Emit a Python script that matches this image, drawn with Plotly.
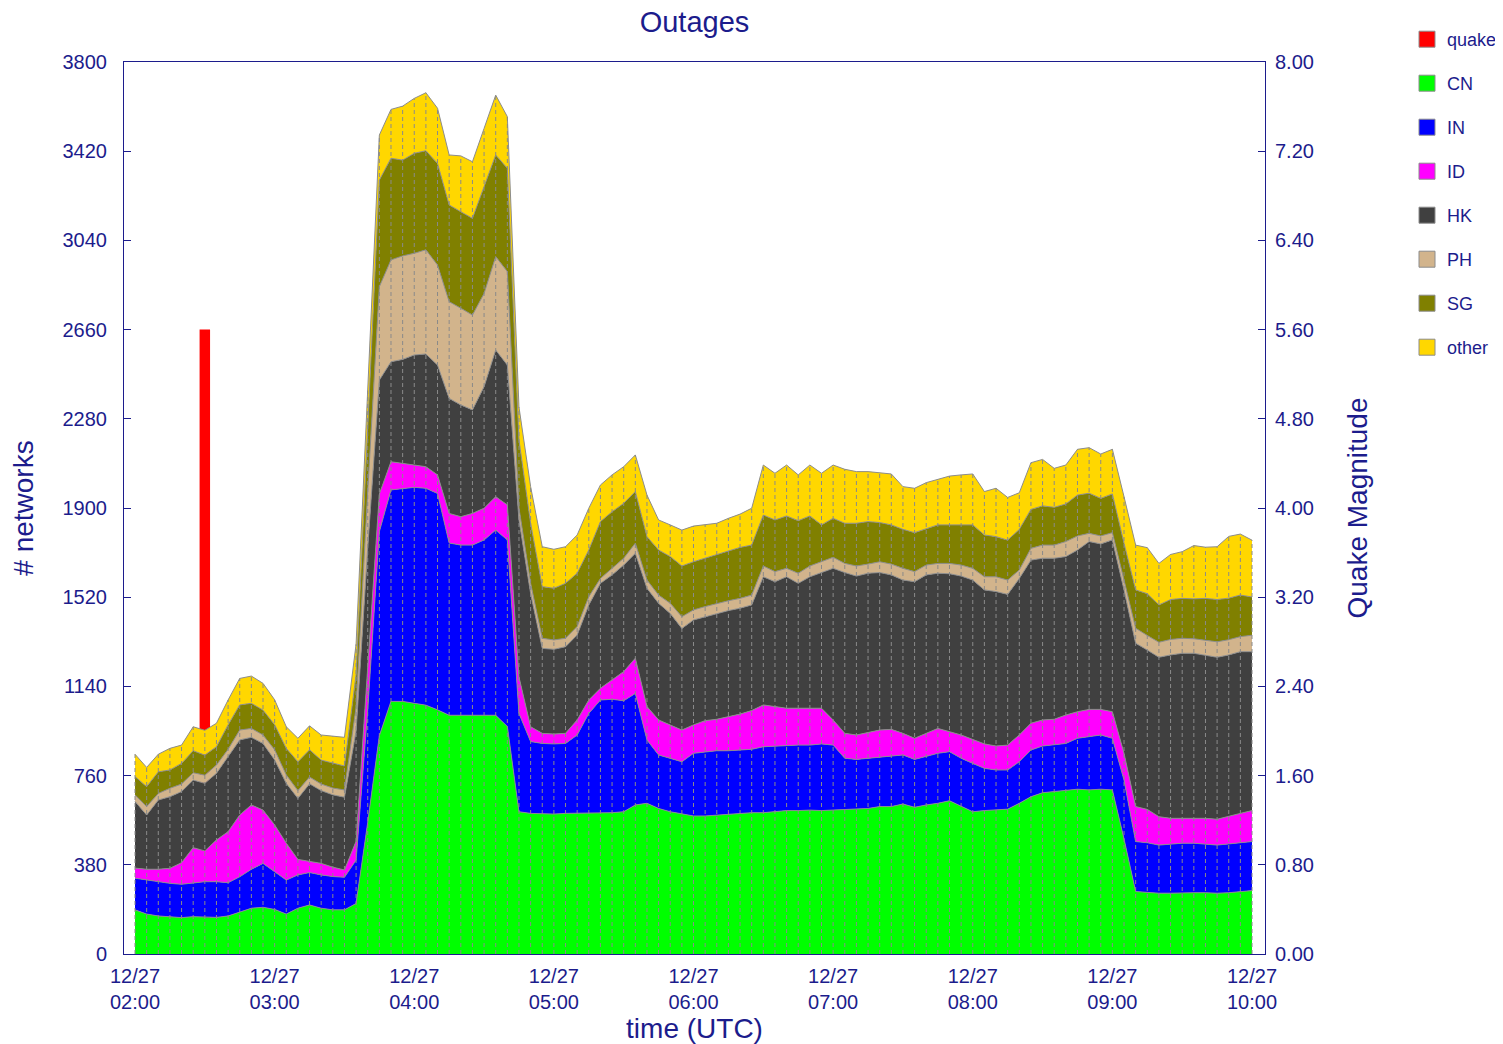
import pandas as pd
import plotly.graph_objects as go

# 5-minute samples, 12/27 02:00 .. 10:00 (UTC)
times = pd.date_range("2006-12-27 02:00", periods=97, freq="5min")

cn = [188, 170, 162, 157, 155, 159, 159, 156, 162, 180, 195, 199, 190, 170, 195, 209, 195, 188, 188,
      215, 560, 930, 1076, 1076, 1069, 1060, 1040, 1017, 1017, 1017, 1017, 1017, 969, 606, 599,
      596, 596, 599, 599, 602, 602, 602, 606, 635, 642, 620, 606, 596, 588, 588, 592, 596, 599, 602,
      602, 606, 611, 611, 613, 611, 613, 616, 620, 620, 628, 628, 639, 625, 635, 642, 653, 628, 606, 611,
      613, 617, 642, 670, 687, 692, 696, 702, 699, 702, 699, 490,
      266, 261, 259, 259, 261, 261, 261, 259, 261, 266, 270]
in_ = [135, 145, 146, 144, 142, 145, 149, 152, 142, 149, 166, 187, 161, 145, 142, 138, 142, 142, 139,
       185, 480, 870, 901, 908, 919, 924, 922, 734, 725, 725, 747, 789, 795, 419, 306,
       301, 299, 298, 334, 423, 480, 483, 473, 475, 270, 228, 228, 223, 267, 274, 274, 270, 270, 270,
       281, 280, 279, 279, 277, 284, 277, 218, 209, 214, 213, 215, 209, 204, 208, 213, 209, 206, 206, 180,
       171, 167, 177, 199, 199, 198, 201, 217, 227, 231, 220, 251,
       213, 213, 205, 210, 211, 211, 208, 205, 208, 208, 209]
id_ = [43, 46, 53, 64, 92, 149, 131, 178, 217, 263, 274, 227, 199, 157, 66, 47, 49, 40, 31,
       80, 180, 160, 120, 106, 95, 92, 79, 126, 121, 135, 135, 142, 149, 155, 63,
       43, 42, 43, 64, 57, 50, 82, 124, 150, 142, 149, 142, 135, 121, 132, 134, 145, 153, 165,
       178, 168, 157, 157, 157, 152, 107, 106, 104, 109, 113, 114, 92, 90, 97, 106, 85, 99, 102, 104,
       102, 106, 114, 114, 111, 110, 121, 113, 116, 109, 113, 114,
       149, 142, 121, 109, 106, 106, 109, 110, 119, 125, 132]
hk = [284, 231, 295, 305, 303, 288, 288, 284, 320, 320, 288, 284, 277, 255, 260, 331, 310, 308, 310,
      470, 510, 485, 426, 443, 469, 480, 468, 490, 476, 441, 518, 625, 596, 670, 568,
      362, 361, 369, 362, 405, 447, 448, 454, 447, 504, 497, 475, 433, 447, 443, 451, 452, 451, 450,
      546, 532, 560, 532, 560, 578, 646, 685, 677, 679, 671, 658, 653, 667, 675, 661, 673, 677, 679, 656,
      658, 642, 667, 695, 689, 686, 675, 689, 715, 705, 732, 696,
      696, 679, 679, 696, 703, 703, 696, 690, 686, 689, 677]
ph = [28, 36, 28, 36, 32, 31, 35, 35, 31, 42, 38, 36, 43, 36, 33, 29, 28, 29, 31,
      100, 240, 398, 434, 441, 433, 444, 426, 412, 412, 404, 397, 398, 398, 50, 43,
      43, 40, 36, 36, 35, 21, 28, 29, 43, 35, 35, 43, 50, 43, 43, 43, 42, 42, 42,
      46, 43, 36, 43, 46, 46, 47, 39, 43, 39, 46, 46, 50, 43, 42, 42, 44, 47, 50, 56,
      63, 61, 36, 50, 56, 56, 64, 60, 35, 34, 31, 42,
      64, 62, 64, 66, 64, 62, 64, 66, 65, 64, 70]
sg = [78, 85, 92, 78, 88, 94, 85, 78, 104, 107, 107, 106, 107, 113, 123, 116, 102, 106, 102,
      140, 270, 454, 433, 408, 426, 422, 433, 412, 411, 412, 455, 433, 440, 290, 256,
      220, 220, 234, 227, 199, 242, 241, 234, 220, 185, 192, 199, 216, 205, 206, 206, 209, 217, 213,
      217, 220, 223, 224, 213, 157, 166, 171, 182, 181, 167, 167, 166, 166, 156, 164, 164, 171, 185, 178,
      171, 170, 173, 166, 167, 161, 160, 174, 171, 160, 165, 157,
      163, 178, 159, 170, 170, 170, 177, 180, 177, 177, 163]
other = [95, 82, 75, 92, 78, 102, 106, 100, 106, 113, 116, 114, 106, 92, 100, 102, 107, 114, 122,
         130, 160, 192, 208, 230, 234, 247, 235, 213, 238, 241, 248, 255, 220, 140, 156,
         170, 166, 156, 163, 178, 156, 157, 156, 156, 177, 128, 135, 153, 152, 142, 135, 142, 142, 157,
         213, 199, 217, 195, 217, 220, 227, 230, 220, 213, 212, 217, 182, 189, 195, 194, 208, 213, 217, 185,
         206, 182, 156, 199, 198, 166, 166, 195, 194, 189, 190, 198,
         191, 196, 177, 192, 199, 227, 218, 225, 263, 260, 242]

quake_time = ["2006-12-27 02:30"]
quake_mag = [5.6]

hour_ticks = pd.date_range("2006-12-27 02:00", "2006-12-27 10:00", freq="1h")
hour_labels = [f"12/27<br>{t:%H:%M}" for t in hour_ticks]
net_ticks = list(range(0, 3801, 380))
mag_ticks = [0, 0.8, 1.6, 2.4, 3.2, 4.0, 4.8, 5.6, 6.4, 7.2, 8.0]

series = [("CN", cn), ("IN", in_), ("ID", id_), ("HK", hk),
          ("PH", ph), ("SG", sg), ("other", other)]
colors = {"quake": "#ff0000", "CN": "#00ff00", "IN": "#0000ff", "ID": "#ff00ff",
          "HK": "#404040", "PH": "#d2b48c", "SG": "#808000", "other": "#ffd700"}

NAVY = "#1c1c8c"
FONT = "Liberation Sans, Arial, sans-serif"
W, H = 1503, 1044

fig = go.Figure()

# quake bar on the base (right) axis so the stacked areas overlay it
fig.add_trace(go.Bar(x=pd.to_datetime(quake_time), y=quake_mag, width=[270000],
                     marker=dict(color=colors["quake"], line=dict(width=0)),
                     yaxis="y", showlegend=False, hoverinfo="skip"))

for name, vals in series:
    fig.add_trace(go.Scatter(x=times, y=vals, name=name, stackgroup="one", mode="lines",
                             line=dict(color="#8c8c8c", width=1), fillcolor=colors[name],
                             yaxis="y2", showlegend=False))

# dashed sample markers from 0 up to the stack top
totals = [sum(v) for v in zip(*[s[1] for s in series])]
vx, vy = [], []
for t, tot in zip(times, totals):
    vx += [t, t, None]
    vy += [0, tot, None]
fig.add_trace(go.Scatter(x=vx, y=vy, mode="lines", yaxis="y2", hoverinfo="skip",
                         line=dict(color="#8a8a8a", width=1, dash="4px,3px"), showlegend=False))

# legend entries
for name in ["quake"] + [s[0] for s in series]:
    fig.add_trace(go.Scatter(x=[None], y=[None], mode="markers", name=name, legendgroup=name,
                             marker=dict(symbol="square", size=16, color=colors[name],
                                         line=dict(color="#8c8c8c", width=1))))

fig.update_layout(
    width=W, height=H,
    paper_bgcolor="white", plot_bgcolor="white",
    margin=dict(l=116, r=246, t=54, b=98),
    font=dict(family=FONT, color=NAVY, size=20),
    title=dict(text="Outages", x=0.5, xref="paper", y=1 - 14 / H, yref="container",
               yanchor="middle", font=dict(size=29, color=NAVY)),
    xaxis=dict(type="date", range=["2006-12-27 01:55:16", "2006-12-27 10:05:35"],
               tickvals=hour_ticks, ticktext=hour_labels, ticks="", ticklabelstandoff=4,
               showline=True, linecolor=NAVY, linewidth=1, mirror=True,
               showgrid=False, zeroline=False, tickfont=dict(size=20),
               title=dict(text="time (UTC)", font=dict(size=28), standoff=4)),
    yaxis=dict(side="right", range=[0, 8], tickvals=mag_ticks, tickformat=".2f",
               ticks="inside", ticklen=7, tickcolor=NAVY, showline=True, linecolor=NAVY,
               showgrid=False, zeroline=False, tickfont=dict(size=20), ticklabelstandoff=5,
               title=dict(text="Quake Magnitude", font=dict(size=28), standoff=34)),
    yaxis2=dict(side="left", overlaying="y", range=[0, 3800], tickvals=net_ticks,
                ticks="inside", ticklen=7, tickcolor=NAVY, showline=True, linecolor=NAVY,
                showgrid=False, zeroline=False, tickfont=dict(size=20), ticklabelstandoff=12,
                title=dict(text="# networks", font=dict(size=28), standoff=22)),
    legend=dict(xref="container", yref="container", x=1399 / W, y=1 - 13 / H,
                xanchor="left", yanchor="top", font=dict(size=18, color=NAVY),
                tracegroupgap=17.6, itemwidth=30, bgcolor="rgba(0,0,0,0)"),
    showlegend=True,
)

fig.write_html("out.html")
